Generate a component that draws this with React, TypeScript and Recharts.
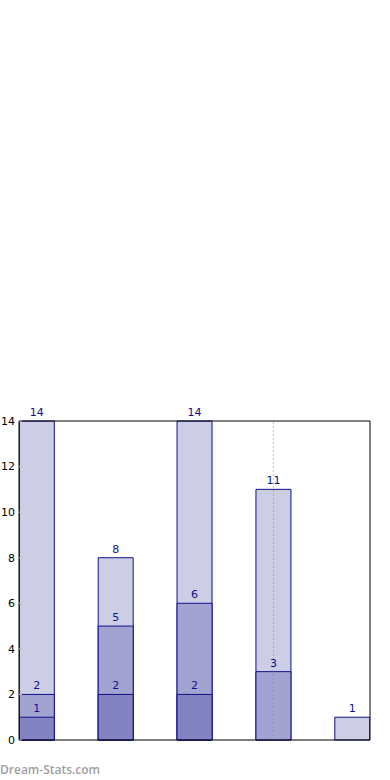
import { Bar, BarChart, LabelList, ReferenceLine, XAxis, YAxis } from "recharts";

const POSITIONS = [0, 1, 2, 3, 4];
const LIGHT = [14, 8, 14, 11, 1];
const MID = [2, 5, 6, 3, null];
const DARK = [1, 2, 2, null, null];
const Y_TICKS = [0, 2, 4, 6, 8, 10, 12, 14];

const NAVY = "#10108a";
const TICK_GRAY = "#bbbbbb";
const FONT = "'DejaVu Sans', sans-serif";

const rows = POSITIONS.map((pos, i) => ({
  pos,
  light: LIGHT[i],
  mid: MID[i],
  dark: DARK[i],
}));

const labelStyle = { fill: NAVY, fontSize: 11, fontFamily: FONT };

export default function App() {
  return (
    <div style={{ position: "absolute", left: 0, top: 0, width: 390, height: 780, background: "#fff" }}>
      <BarChart
        width={390}
        height={780}
        data={rows}
        barSize={35}
        barGap={-35}
        margin={{ top: 420, right: 0, bottom: 0, left: 0 }}
      >
        <XAxis
          dataKey="pos"
          type="number"
          domain={[-0.225, 4.225]}
          ticks={POSITIONS}
          allowDataOverflow
          height={40}
          tick={false}
          tickSize={-4}
          axisLine={{ stroke: "#000" }}
          tickLine={{ stroke: TICK_GRAY }}
        />
        <XAxis
          xAxisId="top"
          orientation="top"
          dataKey="pos"
          type="number"
          domain={[-0.225, 4.225]}
          ticks={POSITIONS}
          allowDataOverflow
          height={1}
          tick={false}
          tickSize={-4}
          axisLine={{ stroke: "#000" }}
          tickLine={{ stroke: TICK_GRAY }}
        />
        <YAxis
          domain={[0, 14]}
          ticks={Y_TICKS}
          width={19}
          tickSize={-3}
          tickMargin={7}
          axisLine={{ stroke: "#000" }}
          tickLine={{ stroke: TICK_GRAY }}
          tick={{ fill: "#000", fontSize: 11, fontFamily: FONT }}
        />
        <YAxis
          yAxisId="right"
          orientation="right"
          domain={[0, 14]}
          ticks={Y_TICKS}
          width={20}
          tick={false}
          tickSize={-3}
          axisLine={{ stroke: "#000" }}
          tickLine={{ stroke: TICK_GRAY }}
        />
        <Bar dataKey="light" fill="#cdcde5" stroke={NAVY} strokeWidth={1} isAnimationActive={false}>
          <LabelList dataKey="light" position="top" offset={5} style={labelStyle} />
        </Bar>
        <Bar dataKey="mid" fill="#a3a3d1" stroke={NAVY} strokeWidth={1} isAnimationActive={false}>
          <LabelList dataKey="mid" position="top" offset={5} style={labelStyle} />
        </Bar>
        <Bar dataKey="dark" fill="#8383c1" stroke={NAVY} strokeWidth={1} isAnimationActive={false}>
          <LabelList dataKey="dark" position="top" offset={5} style={labelStyle} />
        </Bar>
        <ReferenceLine x={3} stroke="#777777" strokeOpacity={0.45} strokeDasharray="2 2" zIndex={1000} />
      </BarChart>
      <div
        style={{
          position: "absolute",
          left: 0,
          top: 761,
          fontFamily: "'Open Sans', sans-serif",
          fontWeight: 600,
          fontSize: 12,
          color: "#a0a0a0",
        }}
      >
        Dream-Stats.com
      </div>
    </div>
  );
}
